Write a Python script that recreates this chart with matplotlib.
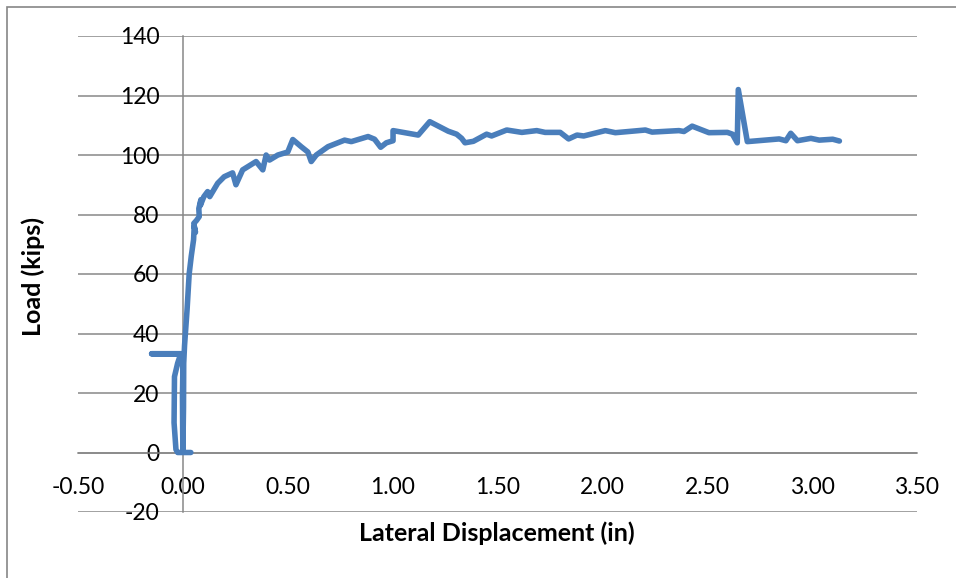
import matplotlib
matplotlib.use("Agg")
import matplotlib.pyplot as plt
from matplotlib.patches import Rectangle

# Lateral displacement (in) and load (kips)
disp = [0.038, -0.025, -0.033, -0.042, -0.040, -0.025, -0.010, -0.149, -0.005,
        0.000, -0.002, -0.001, 0.000, 0.003, 0.004, 0.008, 0.010, 0.020, 0.030,
        0.040, 0.051, 0.054, 0.060, 0.052, 0.065, 0.078, 0.076, 0.086, 0.083,
        0.100, 0.118, 0.128, 0.166, 0.197, 0.237, 0.253, 0.285, 0.349, 0.381,
        0.397, 0.413, 0.453, 0.500, 0.524, 0.564, 0.596, 0.612, 0.636, 0.692,
        0.771, 0.803, 0.883, 0.914, 0.943, 0.970, 1.002, 1.002, 1.122, 1.177,
        1.265, 1.305, 1.329, 1.345, 1.385, 1.448, 1.472, 1.544, 1.616, 1.687,
        1.727, 1.799, 1.839, 1.879, 1.911, 2.014, 2.062, 2.142, 2.205, 2.237,
        2.365, 2.389, 2.428, 2.508, 2.596, 2.620, 2.643, 2.648, 2.691, 2.843,
        2.875, 2.898, 2.930, 2.994, 3.034, 3.098, 3.130]
load = [0.0, 0.0, 1.0, 10.0, 25.5, 30.0, 33.2, 33.2, 33.2,
        28.0, 19.0, 8.0, 0.5, 15.0, 30.0, 36.0, 38.0, 48.0, 60.0,
        66.0, 71.5, 76.0, 74.0, 77.0, 78.0, 79.3, 82.0, 85.0, 83.0,
        86.0, 87.7, 86.0, 90.5, 92.7, 94.0, 90.0, 95.0, 97.8, 95.0,
        100.0, 98.3, 100.0, 101.0, 105.2, 102.8, 101.0, 97.8, 100.0, 102.8,
        105.0, 104.5, 106.2, 105.3, 102.6, 104.1, 104.8, 108.2, 106.7, 111.2,
        108.0, 107.0, 105.6, 104.1, 104.6, 107.0, 106.4, 108.4, 107.6, 108.2,
        107.6, 107.6, 105.4, 106.7, 106.4, 108.2, 107.5, 108.0, 108.4, 107.7,
        108.2, 107.9, 109.7, 107.5, 107.6, 107.0, 104.1, 122.0, 104.5, 105.4,
        104.8, 107.3, 104.8, 105.6, 105.0, 105.3, 104.7]

xticks = [-0.5, 0.0, 0.5, 1.0, 1.5, 2.0, 2.5, 3.0, 3.5]
yticks = [-20, 0, 20, 40, 60, 80, 100, 120, 140]

plt.rcParams['font.family'] = ['Lato', 'DejaVu Sans']

W, H = 956, 578
fig = plt.figure(figsize=(W / 100, H / 100), dpi=100)
fig.patches.append(Rectangle((7 / W, -0.05), 1.1, 1 - 7 / H + 0.05,
                             transform=fig.transFigure, fill=False,
                             edgecolor='#868686', linewidth=1.2))

ax = fig.add_axes([78 / W, 1 - 512 / H, (917 - 78) / W, (512 - 36) / H])
grid_c = '#878787'
ax.plot(disp, load, color='#4A7EBB', linewidth=4.0,
        solid_joinstyle='round', solid_capstyle='round', zorder=3)

ax.set_xlim(-0.5, 3.5)
ax.set_ylim(-20, 140)
ax.set_xticks(xticks)
ax.set_xticklabels([f"{v:.2f}" for v in xticks])
ax.set_yticks(yticks)
ax.set_yticklabels([str(v) for v in yticks])

ax.yaxis.grid(True, color=grid_c, linewidth=1.1)
ax.set_axisbelow(True)
ax.spines['top'].set_visible(False)
ax.spines['right'].set_visible(False)
ax.spines['left'].set_position(('data', 0))
ax.spines['bottom'].set_position(('data', 0))
for s in ('left', 'bottom'):
    ax.spines[s].set_color(grid_c)
    ax.spines[s].set_linewidth(1.1)

ax.tick_params(axis='both', length=0, labelsize=16.5, colors='black')
ax.tick_params(axis='y', pad=17)
ax.tick_params(axis='x', pad=18)

fig.text(497 / W, 1 - 533 / H, 'Lateral Displacement (in)', ha='center',
         va='center', fontsize=18, fontweight='bold')
fig.text(33 / W, 1 - 276 / H, 'Load (kips)', ha='center', va='center',
         rotation=90, fontsize=18, fontweight='bold')

fig.savefig('out.png', dpi=100)
